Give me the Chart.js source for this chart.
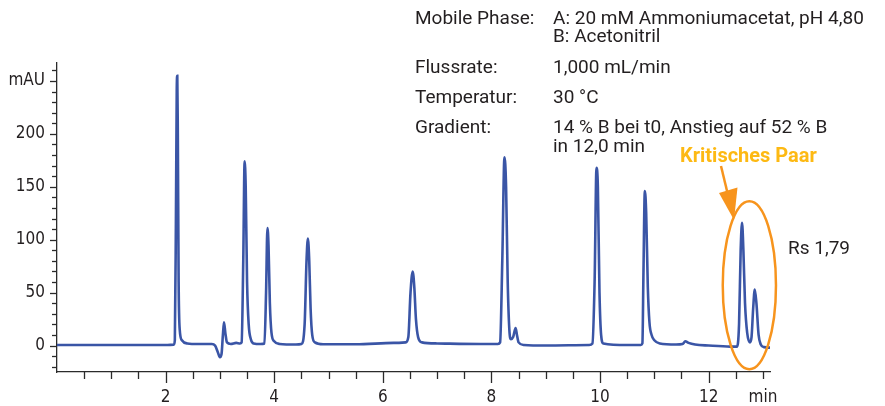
<!DOCTYPE html>
<html>
<head>
<meta charset="utf-8">
<script src="https://cdn.jsdelivr.net/npm/chart.js@4.4.1/dist/chart.umd.min.js"></script>
<style>
  body { margin: 0; background: #fff; }
  #wrap { width: 885px; height: 406px; }
</style>
</head>
<body>
<div id="wrap"><canvas id="chromChart" width="885" height="406"></canvas></div>
<script>
// retention time (min) and signal (mAU)
const retentionTime = [
  0, 1.0, 2.0, 2.15,
  2.17, 2.19, 2.205, 2.215, 2.225, 2.24, 2.26, 2.3, 2.4, 2.6, 2.85,
  2.91, 2.96, 3.0, 3.03, 3.055, 3.075, 3.1, 3.13, 3.2, 3.3, 3.37,
  3.40, 3.43, 3.455, 3.475, 3.50, 3.53, 3.57, 3.62, 3.75,
  3.82, 3.85, 3.875, 3.895, 3.92, 3.95, 4.0, 4.1, 4.4,
  4.50, 4.56, 4.595, 4.62, 4.645, 4.67, 4.70, 4.75, 4.9, 5.5, 6.2, 6.42,
  6.47, 6.51, 6.55, 6.58, 6.61, 6.65, 6.72, 7.0, 7.8, 8.12,
  8.16, 8.2, 8.24, 8.27, 8.30, 8.33, 8.36, 8.40, 8.445, 8.47, 8.5, 8.6, 9.0, 9.8,
  9.86, 9.9, 9.935, 9.96, 9.99, 10.02, 10.06, 10.5, 10.75,
  10.78, 10.80, 10.825, 10.85, 10.88, 10.91, 10.95, 11.0, 11.1, 11.4,
  11.52, 11.57, 11.63, 11.75, 12.0, 12.4,
  12.52, 12.56, 12.59, 12.615, 12.64, 12.67, 12.71, 12.76, 12.79, 12.82, 12.85, 12.88, 12.92, 12.96, 13.02, 13.13
];
const absorbance = [
  0.5, 0.5, 0.5, 0.8,
  5, 120, 240, 255, 200, 60, 15, 5, 2, 1.5, 1.5,
  0, -6, -11, -8, 10, 22, 12, 3, 1.5, 2.5, 2,
  3, 80, 174, 150, 60, 20, 6, 2, 1.5,
  2, 50, 111, 95, 40, 12, 4, 1.5, 1,
  1.5, 20, 80, 101, 80, 35, 10, 3, 1.2, 1.2, 2.5, 3,
  8, 50, 70, 55, 25, 8, 3, 2, 1.5, 1.5,
  3, 80, 178, 150, 60, 15, 6, 8, 16.5, 10, 3, 0.5, 0, 0.5,
  2, 60, 168, 150, 50, 10, 2, 0.5, 0.5,
  2, 70, 146, 125, 55, 22, 10, 5, 2, 1,
  1.5, 4, 2.5, 1, 0, -1,
  -1, 20, 90, 116, 90, 40, 12, 3, 8, 35, 53, 40, 10, 1, -1.5, -2
];

const xLabelValues = [2, 4, 6, 8, 10, 12];
const xUnit = { value: 13, text: "min" };
const yLabelValues = [0, 50, 100, 150, 200];
const yUnit = { value: 250, text: "mAU" };

const conditions = [
  ["Mobile Phase:", "A: 20 mM Ammoniumacetat, pH 4,80"],
  ["", "B: Acetonitril"],
  ["Flussrate:", "1,000 mL/min"],
  ["Temperatur:", "30 °C"],
  ["Gradient:", "14 % B bei t0, Anstieg auf 52 % B"],
  ["", "in 12,0 min"]
];
const conditionBaselines = [23.5, 41.7, 72.7, 102.7, 133.3, 152.3];

const AXIS = "#2b2b2b";
const TRACE = "#3a55a6";
const ORANGE = "#f7941d";
const GOLD = "#fdb913";
const FONT = "Roboto, 'Liberation Sans', sans-serif";
const TICK_FONT = "'Liberation Sans Narrow', 'DejaVu Sans Condensed', Roboto, sans-serif";

const axisTicks = {
  id: "axisTicks",
  afterDraw(chart) {
    const { ctx, scales: { x, y }, chartArea } = chart;
    ctx.save();
    ctx.strokeStyle = AXIS;
    ctx.lineWidth = 1.3;
    x.ticks.forEach(t => {
      if (t.value === 0) return;
      const px = Math.round(x.getPixelForValue(t.value)) + 0.5;
      const len = xLabelValues.includes(t.value) ? 11 : 7;
      ctx.beginPath();
      ctx.moveTo(px, chartArea.bottom);
      ctx.lineTo(px, chartArea.bottom + len);
      ctx.stroke();
    });
    y.ticks.forEach(t => {
      const py = Math.round(y.getPixelForValue(t.value)) + 0.5;
      const len = t.value % 50 === 0 ? 7 : 5;
      ctx.beginPath();
      ctx.moveTo(chartArea.left, py);
      ctx.lineTo(chartArea.left - len, py);
      ctx.stroke();
    });
    ctx.restore();
  }
};

const annotations = {
  id: "annotations",
  afterDraw(chart) {
    const { ctx, scales: { x, y } } = chart;
    ctx.save();
    ctx.fillStyle = "#231f20";
    ctx.font = "19px " + FONT;
    ctx.textBaseline = "alphabetic";
    conditions.forEach((row, i) => {
      if (row[0]) ctx.fillText(row[0], 415, conditionBaselines[i]);
      ctx.fillText(row[1], 553, conditionBaselines[i]);
    });
    ctx.fillText("Rs 1,79", 788, 254);

    // critical pair
    ctx.fillStyle = GOLD;
    ctx.font = "bold 20px " + FONT;
    ctx.fillText("Kritisches Paar", 680, 161.5);

    const cx = x.getPixelForValue(12.75);
    const rx = x.getPixelForValue(12.75 + 0.49) - cx;
    const cy = y.getPixelForValue(57);
    const ry = cy - y.getPixelForValue(57 + 79.4);
    ctx.strokeStyle = ORANGE;
    ctx.lineWidth = 2.5;
    ctx.beginPath();
    ctx.ellipse(cx, cy, rx, ry, 0, 0, Math.PI * 2);
    ctx.stroke();

    ctx.beginPath();
    ctx.moveTo(721, 166);
    ctx.lineTo(728, 195);
    ctx.stroke();
    ctx.fillStyle = ORANGE;
    ctx.beginPath();
    ctx.moveTo(719, 193);
    ctx.lineTo(737.5, 187.5);
    ctx.lineTo(734, 220);
    ctx.closePath();
    ctx.fill();
    ctx.restore();
  }
};

new Chart(document.getElementById("chromChart"), {
  type: "line",
  data: {
    datasets: [{
      data: retentionTime.map((t, i) => ({ x: t, y: absorbance[i] })),
      borderColor: TRACE,
      borderWidth: 2.6,
      pointRadius: 0,
      cubicInterpolationMode: "monotone",
      fill: false
    }]
  },
  options: {
    responsive: false,
    animation: false,
    layout: { padding: { top: 63, right: 115, left: 0, bottom: 0 } },
    plugins: { legend: { display: false }, tooltip: { enabled: false } },
    scales: {
      x: {
        type: "linear",
        min: 0,
        max: 13.13,
        afterFit: s => { s.height = 34; },
        afterBuildTicks: s => {
          const ticks = [];
          for (let v = 0; v <= 13; v += 0.5) ticks.push({ value: v });
          s.ticks = ticks;
        },
        grid: { display: false },
        border: { display: true, color: AXIS, width: 1.3 },
        ticks: {
          autoSkip: false,
          maxRotation: 0,
          padding: 7,
          color: "#231f20",
          font: { family: TICK_FONT, size: 17 },
          callback: v => v === xUnit.value ? xUnit.text : (xLabelValues.includes(v) ? String(v) : "")
        }
      },
      y: {
        min: -25,
        max: 267,
        afterFit: s => { s.width = 57; },
        afterBuildTicks: s => {
          const ticks = [];
          for (let v = -20; v <= 260; v += 10) ticks.push({ value: v });
          s.ticks = ticks;
        },
        grid: { display: false },
        border: { display: true, color: AXIS, width: 1.3 },
        ticks: {
          autoSkip: false,
          padding: 4,
          color: "#231f20",
          font: { family: TICK_FONT, size: 17 },
          callback: v => v === yUnit.value ? yUnit.text : (yLabelValues.includes(v) ? String(v) : "")
        }
      }
    }
  },
  plugins: [axisTicks, annotations]
});
</script>
</body>
</html>
